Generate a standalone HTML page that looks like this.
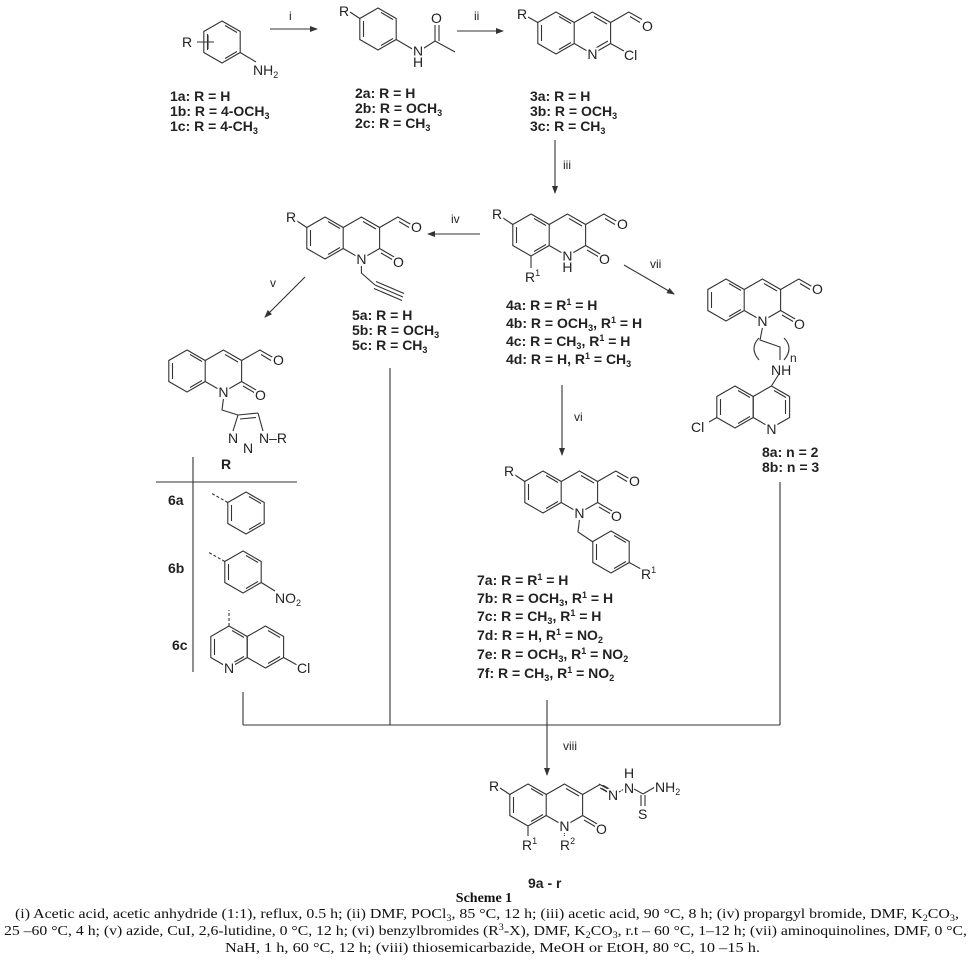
<!DOCTYPE html>
<html><head><meta charset="utf-8">
<style>
html,body{margin:0;padding:0;background:#fff;}
svg{display:block;}
.a{font-family:"Liberation Sans",sans-serif;font-size:14px;fill:#222;paint-order:stroke;stroke:#fff;stroke-width:4px;stroke-linejoin:round;}
.l{font-family:"Liberation Sans",sans-serif;font-size:14px;font-weight:bold;fill:#222;}
.s{font-size:9px;}
.c{font-family:"Liberation Serif",serif;font-size:14px;fill:#111;}
.k{stroke:#333;stroke-width:1.1;fill:none;}
</style></head><body>
<svg width="969" height="977" viewBox="0 0 969 977" xmlns="http://www.w3.org/2000/svg">
<defs>
<marker id="ar" markerWidth="8" markerHeight="8" refX="7" refY="3" orient="auto" markerUnits="userSpaceOnUse"><path d="M0,0 L8,3 L0,6 Z" fill="#333"/></marker>
<g id="bz" class="k">
<polygon points="0,-21 18.2,-10.5 18.2,10.5 0,21 -18.2,10.5 -18.2,-10.5"/>
<line x1="-14.5" y1="-8" x2="-14.5" y2="8"/><line x1="3" y1="-16.5" x2="15" y2="-9.5"/><line x1="3" y1="16.5" x2="15" y2="9.5"/>
</g>
<g id="q" class="k">
<use href="#bz"/>
<polyline points="18.2,-10.5 36.4,-21 54.6,-10.5 54.6,10.5 36.4,21 18.2,10.5"/>
<line x1="38" y1="-16.5" x2="51" y2="-9"/>
<polyline points="54.6,-10.5 72.8,-21 86,-13.5"/>
<line x1="74" y1="-16.5" x2="84" y2="-10.5"/>
</g>
<g id="qo"><use href="#q"/>
<g class="k"><line x1="54.6" y1="10.5" x2="70" y2="19.5"/><line x1="56" y1="15" x2="68" y2="22"/></g>
<text class="a" x="86" y="-6">O</text><text class="a" x="68" y="29">O</text>
<text class="a" x="36.4" y="26" text-anchor="middle">N</text>
</g>
</defs>

<!-- 1 -->
<use href="#bz" x="222" y="42"/>
<line class="k" x1="197" y1="42" x2="214" y2="42"/>
<line class="k" x1="208" y1="35" x2="208" y2="49"/>
<text class="a" x="182" y="47">R</text>
<line class="k" x1="240.2" y1="52.5" x2="256" y2="62"/>
<text class="a" x="253" y="75">NH<tspan class="s" dy="3">2</tspan></text>
<line class="k" x1="270" y1="29" x2="317" y2="29" marker-end="url(#ar)"/>
<text class="a" x="289" y="20" style="font-size:12px">i</text>
<!-- 2 -->
<use href="#bz" x="378" y="29"/>
<line class="k" x1="359.8" y1="18.5" x2="350" y2="12"/>
<text class="a" x="339" y="16">R</text>
<polyline class="k" points="396.2,39.5 414,50"/>
<polyline class="k" points="421,50 435,41 455,52"/>
<line class="k" x1="435" y1="41" x2="435" y2="25"/><line class="k" x1="439" y1="41" x2="439" y2="25"/>
<text class="a" x="431" y="23">O</text>
<text class="a" x="413" y="56">N</text><text class="a" x="413" y="67">H</text>
<line class="k" x1="457" y1="31" x2="503" y2="31" marker-end="url(#ar)"/>
<text class="a" x="474" y="20" style="font-size:12px">ii</text>
<!-- 3 -->
<use href="#q" x="556" y="33"/>
<line class="k" x1="537.8" y1="22.5" x2="528" y2="17"/>
<text class="a" x="517" y="19">R</text>
<line class="k" x1="610.6" y1="43.5" x2="624" y2="51"/>
<line class="k" x1="594" y1="49" x2="608" y2="41"/>
<text class="a" x="642" y="31">O</text>
<text class="a" x="592.4" y="59" text-anchor="middle">N</text>
<text class="a" x="624" y="60">Cl</text>
<text class="l" x="170" y="101">1a: R = H</text>
<text class="l" x="170" y="116">1b: R = 4-OCH<tspan class="s" dy="3">3</tspan></text>
<text class="l" x="170" y="131">1c: R = 4-CH<tspan class="s" dy="3">3</tspan></text>
<text class="l" x="355" y="98">2a: R = H</text>
<text class="l" x="355" y="113">2b: R = OCH<tspan class="s" dy="3">3</tspan></text>
<text class="l" x="355" y="128">2c: R = CH<tspan class="s" dy="3">3</tspan></text>
<text class="l" x="530" y="101">3a: R = H</text>
<text class="l" x="530" y="116">3b: R = OCH<tspan class="s" dy="3">3</tspan></text>
<text class="l" x="530" y="131">3c: R = CH<tspan class="s" dy="3">3</tspan></text>
<line class="k" x1="555" y1="140" x2="555" y2="193" marker-end="url(#ar)"/>
<text class="a" x="563" y="169" style="font-size:12px">iii</text>
<!-- 4 -->
<g transform="translate(531,235)">
<use href="#qo"/>
<text class="a" x="36.4" y="37" text-anchor="middle">H</text>
<line class="k" x1="-18.2" y1="-10.5" x2="-28" y2="-17"/>
<text class="a" x="-39" y="-16">R</text>
<line class="k" x1="0" y1="21" x2="0" y2="33"/>
<text class="a" x="-6" y="47">R<tspan class="s" dy="-6">1</tspan></text>
</g>
<text class="l" x="506" y="310">4a: R = R<tspan class="s" dy="-5">1</tspan><tspan dy="5"> = H</tspan></text>
<text class="l" x="506" y="328">4b: R = OCH<tspan class="s" dy="3">3</tspan><tspan dy="-3">, R</tspan><tspan class="s" dy="-5">1</tspan><tspan dy="5"> = H</tspan></text>
<text class="l" x="506" y="346">4c: R = CH<tspan class="s" dy="3">3</tspan><tspan dy="-3">, R</tspan><tspan class="s" dy="-5">1</tspan><tspan dy="5"> = H</tspan></text>
<text class="l" x="506" y="364">4d: R = H, R<tspan class="s" dy="-5">1</tspan><tspan dy="5"> = CH</tspan><tspan class="s" dy="3">3</tspan></text>
<line class="k" x1="480" y1="234" x2="428" y2="234" marker-end="url(#ar)"/>
<text class="a" x="451" y="223" style="font-size:12px">iv</text>
<!-- 5 -->
<g transform="translate(325,238)">
<use href="#qo"/>
<line class="k" x1="-18.2" y1="-10.5" x2="-28" y2="-17"/>
<text class="a" x="-39" y="-16">R</text>
<polyline class="k" points="36.4,28 36.4,35 50,47"/>
<line class="k" x1="50" y1="47" x2="78" y2="59"/>
<line class="k" x1="51" y1="43.5" x2="79" y2="55.5"/>
<line class="k" x1="49" y1="50.5" x2="77" y2="62.5"/>
</g>
<text class="l" x="352" y="320">5a: R = H</text>
<text class="l" x="352" y="335">5b: R = OCH<tspan class="s" dy="3">3</tspan></text>
<text class="l" x="352" y="350">5c: R = CH<tspan class="s" dy="3">3</tspan></text>
<line class="k" x1="305" y1="277" x2="265" y2="317" marker-end="url(#ar)"/>
<text class="a" x="270" y="287" style="font-size:12px">v</text>
<!-- 6 -->
<g transform="translate(187,371)">
<use href="#qo"/>
<polyline class="k" points="36.4,28 35,39 51,44"/>
<line class="k" x1="51" y1="44" x2="71" y2="42"/>
<line class="k" x1="53" y1="48" x2="69" y2="46.5"/>
<line class="k" x1="71" y1="42" x2="76" y2="60"/>
<line class="k" x1="51" y1="44" x2="46" y2="60"/>
<text class="a" x="41" y="72">N</text>
<text class="a" x="56" y="82">N</text>
<text class="a" x="72" y="72">N–R</text>
</g>
<text class="l" x="221" y="469">R</text>
<line class="k" x1="193" y1="457" x2="193" y2="672"/>
<line class="k" x1="156" y1="482" x2="297" y2="482"/>
<text class="l" x="168" y="505">6a</text>
<text class="l" x="168" y="573">6b</text>
<text class="l" x="172" y="650">6c</text>
<use href="#bz" x="246" y="513"/>
<line class="k" x1="227.8" y1="502.5" x2="211" y2="493" stroke-dasharray="3,2"/>
<use href="#bz" x="243" y="572"/>
<line class="k" x1="224.8" y1="561.5" x2="208" y2="552" stroke-dasharray="3,2"/>
<line class="k" x1="261.2" y1="582.5" x2="275" y2="591"/>
<text class="a" x="275" y="603">NO<tspan class="s" dy="3">2</tspan></text>
<g transform="translate(229,647)">
<use href="#bz"/>
<polygon class="k" points="36.4,-21 54.6,-10.5 54.6,10.5 36.4,21 18.2,10.5 18.2,-10.5"/>
<line class="k" x1="39" y1="-16.5" x2="51" y2="-9.5"/>
<line class="k" x1="39" y1="16.5" x2="51" y2="9.5"/>
<line class="k" x1="0" y1="-21" x2="0" y2="-37" stroke-dasharray="3,2"/>
<line class="k" x1="54.6" y1="10.5" x2="68" y2="18"/>
<text class="a" x="0" y="26" text-anchor="middle">N</text>
<text class="a" x="68" y="26">Cl</text>
</g>
<!-- 7 -->
<line class="k" x1="562" y1="385" x2="562" y2="455" marker-end="url(#ar)"/>
<text class="a" x="574" y="421" style="font-size:12px">vi</text>
<g transform="translate(543,492)">
<use href="#qo"/>
<line class="k" x1="-18.2" y1="-10.5" x2="-28" y2="-17"/>
<text class="a" x="-39" y="-16">R</text>
<polyline class="k" points="36.4,28 35,40 50,50"/>
<g transform="translate(68,60)"><use href="#bz"/></g>
<line class="k" x1="86.2" y1="70.5" x2="98" y2="77"/>
<text class="a" x="98" y="87">R<tspan class="s" dy="-6">1</tspan></text>
</g>
<text class="l" x="477" y="585">7a: R = R<tspan class="s" dy="-5">1</tspan><tspan dy="5"> = H</tspan></text>
<text class="l" x="477" y="603">7b: R = OCH<tspan class="s" dy="3">3</tspan><tspan dy="-3">, R</tspan><tspan class="s" dy="-5">1</tspan><tspan dy="5"> = H</tspan></text>
<text class="l" x="477" y="621">7c: R = CH<tspan class="s" dy="3">3</tspan><tspan dy="-3">, R</tspan><tspan class="s" dy="-5">1</tspan><tspan dy="5"> = H</tspan></text>
<text class="l" x="477" y="640">7d: R = H, R<tspan class="s" dy="-5">1</tspan><tspan dy="5"> = NO</tspan><tspan class="s" dy="3">2</tspan></text>
<text class="l" x="477" y="659">7e: R = OCH<tspan class="s" dy="3">3</tspan><tspan dy="-3">, R</tspan><tspan class="s" dy="-5">1</tspan><tspan dy="5"> = NO</tspan><tspan class="s" dy="3">2</tspan></text>
<text class="l" x="477" y="678">7f: R = CH<tspan class="s" dy="3">3</tspan><tspan dy="-3">, R</tspan><tspan class="s" dy="-5">1</tspan><tspan dy="5"> = NO</tspan><tspan class="s" dy="3">2</tspan></text>
<line class="k" x1="624" y1="265" x2="674" y2="294" marker-end="url(#ar)"/>
<text class="a" x="650" y="268" style="font-size:12px">vii</text>
<!-- 8 -->
<g transform="translate(726,300)">
<use href="#qo"/>
<polyline class="k" points="36.4,28 34,40 54,47 54,60"/>
<path class="k" d="M33,38 Q23,48 33,60"/>
<path class="k" d="M58,38 Q68,48 58,60"/>
<text class="a" x="64" y="62" style="font-size:12px">n</text>
<text class="a" x="45" y="75">NH</text>
</g>
<g transform="translate(735,407)">
<use href="#bz"/>
<polygon class="k" points="36.4,-21 54.6,-10.5 54.6,10.5 36.4,21 18.2,10.5 18.2,-10.5"/>
<line class="k" x1="39" y1="-16.5" x2="51" y2="-9.5"/>
<line class="k" x1="50.5" y1="-7" x2="50.5" y2="7"/>
<line class="k" x1="36.4" y1="-21" x2="44" y2="-33"/>
<line class="k" x1="-18.2" y1="10.5" x2="-26" y2="15"/>
<text class="a" x="36.4" y="27" text-anchor="middle">N</text>
<text class="a" x="-44" y="25">Cl</text>
</g>
<text class="l" x="762" y="457">8a: n = 2</text>
<text class="l" x="762" y="472">8b: n = 3</text>
<line class="k" x1="390" y1="368" x2="390" y2="725"/>
<line class="k" x1="243" y1="692" x2="243" y2="725"/>
<line class="k" x1="780" y1="482" x2="780" y2="725"/>
<line class="k" x1="243" y1="725" x2="780" y2="725"/>
<line class="k" x1="547" y1="700" x2="547" y2="775" marker-end="url(#ar)"/>
<text class="a" x="563" y="750" style="font-size:12px">viii</text>
<!-- 9 -->
<g transform="translate(528,805)">
<use href="#q"/>
<g class="k"><line x1="54.6" y1="10.5" x2="70" y2="19.5"/><line x1="56" y1="15" x2="68" y2="22"/></g>
<text class="a" x="68" y="29">O</text>
<text class="a" x="36.4" y="26" text-anchor="middle">N</text>
<line class="k" x1="-18.2" y1="-10.5" x2="-28" y2="-17"/>
<text class="a" x="-39" y="-14">R</text>
<line class="k" x1="0" y1="21" x2="0" y2="31"/>
<text class="a" x="-6" y="45">R<tspan class="s" dy="-6">1</tspan></text>
<line class="k" x1="36.4" y1="28" x2="36.4" y2="32" stroke-dasharray="1,1"/>
<text class="a" x="32" y="45">R<tspan class="s" dy="-6">2</tspan></text>
</g>
<rect x="600" y="775" width="20" height="10" fill="#fff"/>
<line class="k" x1="599" y1="784" x2="610" y2="790"/>
<line class="k" x1="600" y1="788" x2="609" y2="793"/>
<text class="a" x="608" y="800">N</text>
<line class="k" x1="619" y1="792" x2="624" y2="789" stroke-dasharray="2,1"/>
<text class="a" x="624" y="793">N</text>
<text class="a" x="624" y="778">H</text>
<line class="k" x1="634" y1="789" x2="643" y2="794"/>
<line class="k" x1="643" y1="794" x2="655" y2="787"/>
<line class="k" x1="641" y1="795" x2="641" y2="806"/><line class="k" x1="645" y1="795" x2="645" y2="806"/>
<text class="a" x="638" y="819">S</text>
<text class="a" x="655" y="792">NH<tspan class="s" dy="3">2</tspan></text>
<text class="l" x="528" y="888">9a - r</text>
<!-- caption -->
<text class="c" x="484" y="902" text-anchor="middle" font-weight="bold">Scheme 1</text>
<text class="c" x="15" y="918" textLength="944" lengthAdjust="spacingAndGlyphs">(i) Acetic acid, acetic anhydride (1:1), reflux, 0.5 h; (ii) DMF, POCl<tspan class="s" dy="3">3</tspan><tspan dy="-3">, 85 °C, 12 h; (iii) acetic acid, 90 °C, 8 h; (iv) propargyl bromide, DMF, K</tspan><tspan class="s" dy="3">2</tspan><tspan dy="-3">CO</tspan><tspan class="s" dy="3">3</tspan><tspan dy="-3">,</tspan></text>
<text class="c" x="4" y="935" textLength="963" lengthAdjust="spacingAndGlyphs">25 –60 °C, 4 h; (v) azide, CuI, 2,6-lutidine, 0 °C, 12 h; (vi) benzylbromides (R<tspan class="s" dy="-5">3</tspan><tspan dy="5">-X), DMF, K</tspan><tspan class="s" dy="3">2</tspan><tspan dy="-3">CO</tspan><tspan class="s" dy="3">3</tspan><tspan dy="-3">, r.t – 60 °C, 1–12 h; (vii) aminoquinolines, DMF, 0 °C,</tspan></text>
<text class="c" x="225" y="952" textLength="535" lengthAdjust="spacingAndGlyphs">NaH, 1 h, 60 °C, 12 h; (viii) thiosemicarbazide, MeOH or EtOH, 80 °C, 10 –15 h.</text>
</svg>
</body></html>
